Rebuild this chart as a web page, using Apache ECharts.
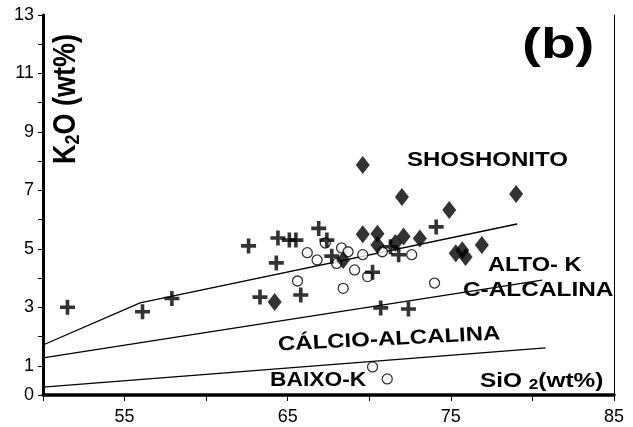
<!DOCTYPE html>
<html>
<head>
<meta charset="utf-8">
<script src="https://cdn.jsdelivr.net/npm/echarts@6/dist/echarts.min.js"></script>
<style>
  html, body { margin: 0; padding: 0; background: #fff; }
  #chart { width: 633px; height: 427px; }
</style>
</head>
<body>
<div id="chart"></div>
<script>
// SiO2 vs K2O (wt%) - sample groups
const crossPts = [
  [51.5, 3.0], [56.1, 2.85], [57.9, 3.3], [62.6, 5.1], [63.3, 3.35], [64.3, 4.52],
  [64.4, 5.37], [65.1, 5.3], [65.5, 5.3], [65.8, 3.42], [66.9, 5.7], [67.4, 5.3],
  [67.7, 4.75], [70.2, 4.2], [70.7, 2.98], [71.3, 5.07], [71.8, 4.8], [72.4, 2.94],
  [74.1, 5.75]
];
const circlePts = [
  [65.6, 3.9], [66.2, 4.87], [66.8, 4.62], [67.3, 5.2], [68.0, 4.5], [68.3, 5.03],
  [68.7, 4.9], [68.4, 3.65], [69.1, 4.28], [69.6, 4.8], [69.9, 4.05], [70.8, 4.9],
  [72.6, 4.8], [74.0, 3.83], [70.2, 0.96], [71.1, 0.55]
];
const diamondPts = [
  [64.2, 3.18], [68.4, 4.62], [69.6, 7.87], [69.6, 5.5], [70.5, 5.52], [70.5, 5.13],
  [71.6, 5.2], [72.0, 6.77], [72.1, 5.42], [73.1, 5.35], [74.9, 6.33], [75.3, 4.85],
  [75.9, 4.72], [75.7, 4.95], [76.9, 5.13], [79.0, 6.88]
];

// field boundaries
const shoLine = [[50, 1.71], [55.95, 3.15], [79.06, 5.85]];
const highKLine = [[50, 1.27], [80.6, 3.93]];
const lowKLine = [[50, 0.27], [80.8, 1.61]];

const xTickLabels = [55, 65, 75, 85];
const yTickLabels = [0, 1, 3, 5, 7, 9, 11, 13];

const chart = echarts.init(document.getElementById('chart'));
const font = '"Liberation Sans", Arial, sans-serif';

function boundary(data) {
  return {
    type: 'line', data: data, symbol: 'none', silent: true, z: 1,
    lineStyle: { color: '#000', width: 1.3 }
  };
}

// bold field label, stretched a little wider like the original figure
function label(text, x, y, sx, extra) {
  return Object.assign({
    type: 'text', x: x, y: y, scaleX: sx,
    style: { text: text, font: 'bold 20px ' + font, fill: '#000', verticalAlign: 'middle' }
  }, extra || {});
}

const option = {
  animation: false,
  grid: { left: 43, right: 19, top: 15, bottom: 32 },
  xAxis: [{
    type: 'value', min: 50, max: 85, interval: 5,
    splitLine: { show: false },
    axisLine: { lineStyle: { color: '#000', width: 3.5 } },
    axisTick: { length: 6, lineStyle: { color: '#000', width: 1 } },
    axisLabel: {
      color: '#000', fontFamily: font, fontSize: 18, margin: 13,
      formatter: v => xTickLabels.includes(v) ? String(v) : ''
    }
  }, {
    type: 'value', min: 50, max: 85, position: 'top',
    splitLine: { show: false }, axisTick: { show: false }, axisLabel: { show: false },
    axisLine: { lineStyle: { color: '#000', width: 1 } }
  }],
  yAxis: [{
    type: 'value', min: 0, max: 13, interval: 1,
    splitLine: { show: false },
    axisLine: { lineStyle: { color: '#000', width: 3 } },
    axisTick: { length: 5, lineStyle: { color: '#000', width: 1 } },
    axisLabel: {
      color: '#000', fontFamily: font, fontSize: 18, margin: 9,
      formatter: v => yTickLabels.includes(v) ? String(v) : ''
    }
  }, {
    type: 'value', min: 0, max: 13, position: 'right',
    splitLine: { show: false }, axisTick: { show: false }, axisLabel: { show: false },
    axisLine: { lineStyle: { color: '#000', width: 1 } }
  }],
  series: [
    boundary(shoLine),
    boundary(highKLine),
    boundary(lowKLine),
    {
      type: 'scatter', data: circlePts, symbol: 'circle', symbolSize: 10, z: 3,
      itemStyle: { color: '#fff', borderColor: '#000', borderWidth: 1.3 }
    },
    {
      type: 'scatter', data: crossPts, z: 4,
      symbol: 'path://M0,3.8H10V6.2H0Z M3.8,0H6.2V10H3.8Z', symbolSize: 15,
      itemStyle: { color: '#000' }
    },
    {
      type: 'scatter', data: diamondPts, symbol: 'diamond', symbolSize: [14, 18], z: 5,
      itemStyle: { color: '#000' }
    }
  ],
  graphic: [
    { type: 'text', x: 522, y: 46, scaleX: 1.35,
      style: { text: '(b)', font: 'bold 42px ' + font, fill: '#000', verticalAlign: 'middle' } },
    label('SHOSHONITO', 407, 160, 1.2),
    label('ALTO- K', 488, 265, 1.18),
    label('C-ALCALINA', 463, 290, 1.22),
    label('CÁLCIO-ALCALINA', 278, 345, 1.2, { rotation: 0.05 }),
    label('BAIXO-K', 270, 380, 1.14),
    { type: 'text', x: 480, y: 381, scaleX: 1.22, style: {
        text: '{a|SiO }{s|2}{a|(wt%)}', verticalAlign: 'middle',
        rich: {
          a: { font: 'bold 20px ' + font, fill: '#000' },
          s: { font: 'bold 14px ' + font, fill: '#000', padding: [9, 0, 0, 0] }
        }
      } },
    { type: 'text', x: 66, y: 164, rotation: Math.PI / 2, scaleY: 1.15, style: {
        text: '{a|K}{s|2}{a|O (wt%)}', verticalAlign: 'middle',
        rich: {
          a: { font: 'bold 27px ' + font, fill: '#000' },
          s: { font: 'bold 18px ' + font, fill: '#000', padding: [12, 0, 0, 0] }
        }
      } }
  ]
};
chart.setOption(option);
</script>
</body>
</html>
